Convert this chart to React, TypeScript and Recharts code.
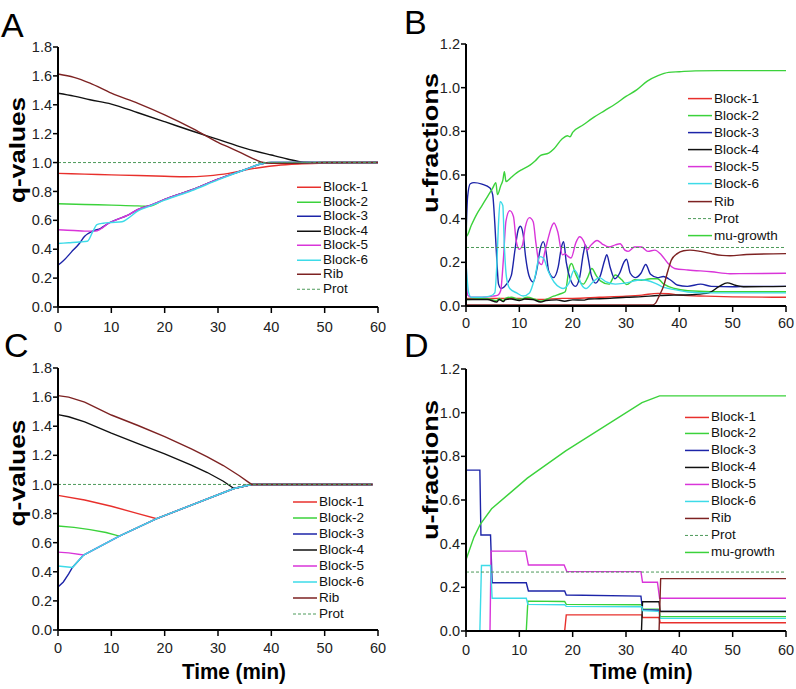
import { LineChart, Line, XAxis, YAxis, Legend } from 'recharts';

type Pt = [number, number];

const TIME_TICKS = [0, 10, 20, 30, 40, 50, 60];
const Q_TICKS = [0, 0.2, 0.4, 0.6, 0.8, 1.0, 1.2, 1.4, 1.6, 1.8];
const U_TICKS = [0, 0.2, 0.4, 0.6, 0.8, 1.0, 1.2];

const Q_NAMES = ['Block-1', 'Block-2', 'Block-3', 'Block-4', 'Block-5', 'Block-6', 'Rib', 'Prot'];
const U_NAMES = [...Q_NAMES, 'mu-growth'];

const COLORS: Record<string, string> = {
  'Block-1': '#e8302c',
  'Block-2': '#3bd23b',
  'Block-3': '#1c24a8',
  'Block-4': '#111111',
  'Block-5': '#d935d9',
  'Block-6': '#3ddbe8',
  Rib: '#7d2222',
  Prot: '#4d9a5a',
  'mu-growth': '#3bd23b',
};

// ---- panel A: q-values, simulation
const A_BLOCK1: Pt[] = [[0, 0.925], [5, 0.92], [10, 0.915], [15, 0.91], [20, 0.905], [24, 0.902], [28, 0.908], [32, 0.925], [35, 0.948], [38, 0.966], [41, 0.98], [45, 0.99], [50, 0.995], [55, 0.998], [60, 1.0]];
const A_BLOCK2: Pt[] = [[0, 0.715], [5, 0.71], [10, 0.705], [15, 0.7], [17, 0.697], [20, 0.745], [25, 0.81], [30, 0.885], [35, 0.95], [38, 0.99], [40, 1.0], [45, 1.0], [60, 1.0]];
const A_BLOCK3: Pt[] = [[0, 0.29], [1, 0.32], [2.5, 0.38], [4, 0.44], [5, 0.49], [6.5, 0.525], [8, 0.545], [9.5, 0.58], [11, 0.605], [13, 0.635], [15, 0.675], [17, 0.7], [20, 0.745], [25, 0.81], [30, 0.885], [35, 0.95], [38, 0.99], [40, 1.0], [60, 1.0]];
const A_BLOCK4: Pt[] = [[0, 1.48], [3, 1.46], [6, 1.435], [10, 1.405], [15, 1.345], [20, 1.283], [25, 1.22], [30, 1.16], [35, 1.1], [40, 1.052], [43, 1.025], [46, 1.003], [50, 1.0], [60, 1.0]];
const A_BLOCK5: Pt[] = [[0, 0.535], [3, 0.53], [5, 0.525], [7, 0.525], [8, 0.54], [9.5, 0.58], [11, 0.605], [13, 0.635], [15, 0.675], [17, 0.7], [20, 0.745], [25, 0.81], [30, 0.885], [35, 0.95], [38, 0.99], [40, 1.0], [60, 1.0]];
const A_BLOCK6: Pt[] = [[0, 0.44], [2, 0.445], [4, 0.45], [5.5, 0.455], [6.5, 0.52], [7.3, 0.57], [8.5, 0.58], [10, 0.585], [12, 0.59], [13, 0.61], [15, 0.665], [17, 0.695], [20, 0.74], [25, 0.805], [30, 0.88], [35, 0.95], [38, 0.99], [40, 1.0], [60, 1.0]];
const A_RIB: Pt[] = [[0, 1.613], [3, 1.59], [6, 1.55], [10, 1.48], [15, 1.41], [20, 1.33], [25, 1.24], [28, 1.18], [30, 1.14], [33, 1.09], [35, 1.055], [37, 1.02], [38.5, 1.0], [40, 0.995], [45, 0.995], [50, 1.0], [60, 1.0]];
const A_PROT: Pt[] = [[0, 1.0], [60, 1.0]];

// ---- panel B: u-fractions, simulation
const B_BLOCK1: Pt[] = [[0, 0.035], [5, 0.035], [10, 0.035], [14, 0.03], [18, 0.035], [20, 0.035], [25, 0.04], [30, 0.045], [33, 0.05], [36, 0.058], [38, 0.056], [40, 0.05], [45, 0.045], [50, 0.042], [60, 0.04]];
const B_BLOCK2: Pt[] = [[0, 0.03], [2, 0.032], [4, 0.033], [5.8, 0.025], [6.2, 0.035], [7, 0.025], [7.4, 0.035], [8.5, 0.04], [10, 0.03], [11.5, 0.04], [13, 0.03], [14, 0.022], [15, 0.03], [16.4, 0.045], [17.6, 0.055], [18.6, 0.065], [19.4, 0.18], [19.8, 0.195], [20.5, 0.15], [21.2, 0.115], [22, 0.1], [22.8, 0.13], [23.6, 0.172], [24.4, 0.14], [25.2, 0.115], [26.8, 0.1], [28, 0.142], [29.2, 0.12], [30.1, 0.098], [31.6, 0.12], [32.9, 0.118], [34.6, 0.125], [35.9, 0.125], [37.1, 0.1], [39.1, 0.08], [41.6, 0.07], [46, 0.066], [60, 0.065]];
const B_BLOCK3: Pt[] = [[0, 0.32], [0.3, 0.5], [0.8, 0.56], [1.5, 0.565], [3, 0.558], [4.5, 0.54], [5.0, 0.51], [5.4, 0.38], [5.8, 0.2], [6.1, 0.1], [6.6, 0.08], [7.6, 0.1], [8.5, 0.14], [9.2, 0.26], [9.8, 0.35], [10.2, 0.365], [10.7, 0.33], [11.2, 0.22], [11.8, 0.14], [12.6, 0.11], [13.3, 0.17], [13.9, 0.26], [14.5, 0.295], [15, 0.25], [15.5, 0.16], [16.4, 0.13], [17.3, 0.18], [17.9, 0.27], [18.3, 0.295], [18.8, 0.2], [19.6, 0.12], [20.5, 0.09], [21.3, 0.13], [22, 0.24], [22.4, 0.28], [22.9, 0.22], [23.5, 0.14], [24.3, 0.105], [25.2, 0.14], [26, 0.21], [26.4, 0.235], [27, 0.18], [27.9, 0.125], [28.8, 0.15], [29.6, 0.2], [30.1, 0.214], [30.8, 0.15], [31.8, 0.13], [32.8, 0.15], [33.7, 0.19], [34.6, 0.145], [35.9, 0.13], [37, 0.135], [38.4, 0.118], [39.6, 0.096], [41.5, 0.09], [44, 0.1], [46, 0.09], [50, 0.088], [53, 0.09], [60, 0.09]];
const B_BLOCK4: Pt[] = [[0, 0.03], [2, 0.03], [4, 0.03], [5.8, 0.018], [6.2, 0.03], [7, 0.02], [7.4, 0.03], [8.5, 0.032], [10, 0.025], [11, 0.032], [12.5, 0.03], [14, 0.018], [15, 0.025], [17, 0.028], [18.5, 0.022], [20, 0.028], [22, 0.027], [23, 0.032], [25, 0.033], [27, 0.035], [30, 0.04], [33, 0.043], [36, 0.048], [39, 0.05], [43, 0.053], [45.5, 0.06], [47.5, 0.09], [49, 0.106], [50.5, 0.095], [52, 0.088], [60, 0.09]];
const B_BLOCK5: Pt[] = [[0, 0.22], [0.3, 0.05], [1, 0.04], [3, 0.04], [5, 0.045], [6, 0.05], [6.5, 0.07], [7.0, 0.21], [7.5, 0.39], [8.2, 0.437], [8.9, 0.41], [9.4, 0.3], [10, 0.26], [10.6, 0.28], [11.1, 0.36], [11.9, 0.405], [12.6, 0.386], [13.1, 0.29], [13.7, 0.2], [14.2, 0.19], [14.8, 0.25], [15.3, 0.3], [16, 0.36], [16.5, 0.38], [17.2, 0.34], [18.1, 0.234], [18.6, 0.24], [19, 0.23], [19.7, 0.22], [20.6, 0.29], [21.3, 0.317], [22.1, 0.295], [22.7, 0.256], [23.3, 0.275], [24.6, 0.3], [25.5, 0.285], [26.8, 0.27], [28, 0.28], [28.9, 0.285], [29.8, 0.256], [30.4, 0.25], [31.6, 0.27], [32.9, 0.27], [34.1, 0.25], [35.4, 0.256], [36.6, 0.235], [37.9, 0.195], [39.1, 0.172], [41.6, 0.165], [46, 0.157], [49.5, 0.148], [60, 0.15]];
const B_BLOCK6: Pt[] = [[0, 0.2], [0.5, 0.06], [1, 0.04], [3, 0.04], [4.5, 0.045], [5.4, 0.06], [5.8, 0.2], [6.06, 0.36], [6.4, 0.478], [6.9, 0.46], [7.2, 0.27], [7.6, 0.13], [8.2, 0.08], [9.5, 0.06], [10.7, 0.046], [11.9, 0.06], [12.9, 0.13], [13.8, 0.226], [14.5, 0.22], [15.4, 0.16], [16.5, 0.11], [17.6, 0.085], [18.2, 0.08], [19.2, 0.1], [20.3, 0.165], [21, 0.14], [21.6, 0.1], [22.5, 0.08], [23.8, 0.11], [25, 0.13], [26.3, 0.11], [28, 0.1], [29.8, 0.105], [32.9, 0.12], [35.4, 0.105], [37.1, 0.085], [39.1, 0.075], [41.6, 0.064], [46, 0.06], [60, 0.06]];
const B_RIB: Pt[] = [[0, 0.005], [35, 0.005], [35.5, 0.012], [36.3, 0.05], [37, 0.088], [37.9, 0.165], [38.5, 0.21], [39.6, 0.24], [40.8, 0.253], [42, 0.256], [44, 0.25], [46, 0.24], [48, 0.232], [49.5, 0.23], [52.6, 0.236], [60, 0.24]];
const B_PROT: Pt[] = [[0, 0.268], [60, 0.268]];
const B_MU: Pt[] = [[0, 0.94], [0.1, 0.32], [1, 0.37], [2, 0.42], [3, 0.46], [4, 0.5], [5, 0.54], [5.6, 0.565], [5.9, 0.51], [6.5, 0.55], [6.9, 0.575], [7.2, 0.615], [7.5, 0.57], [8.5, 0.59], [9.5, 0.61], [10.5, 0.625], [12, 0.645], [13, 0.665], [14, 0.69], [15.5, 0.7], [16.5, 0.72], [18, 0.765], [19, 0.78], [19.5, 0.775], [20, 0.795], [22, 0.83], [24, 0.865], [26, 0.895], [28, 0.925], [30, 0.96], [32, 0.99], [34, 1.03], [36, 1.055], [38, 1.07], [40, 1.073], [43, 1.077], [50, 1.078], [60, 1.078]];

// ---- panel C: q-values, model
const C_BLOCK1: Pt[] = [[0, 0.925], [5, 0.893], [10, 0.85], [15, 0.8], [18.5, 0.765], [33, 0.972], [36.3, 1.0], [59, 1.0]];
const C_BLOCK2: Pt[] = [[0, 0.715], [3, 0.705], [6, 0.69], [9, 0.67], [11.5, 0.645], [18.5, 0.765], [33, 0.972], [36.3, 1.0], [59, 1.0]];
const C_BLOCK3: Pt[] = [[0, 0.295], [1, 0.33], [2, 0.385], [2.7, 0.43], [4.8, 0.515], [11.5, 0.645], [18.5, 0.765], [33, 0.972], [36.3, 1.0], [59, 1.0]];
const C_BLOCK4: Pt[] = [[0, 1.48], [2, 1.465], [5, 1.43], [10, 1.352], [15, 1.28], [20, 1.21], [25, 1.133], [28, 1.082], [31, 1.022], [33, 0.972], [36.3, 1.0], [59, 1.0]];
const C_BLOCK5: Pt[] = [[0, 0.535], [2, 0.53], [4.8, 0.515], [11.5, 0.645], [18.5, 0.765], [33, 0.972], [36.3, 1.0], [59, 1.0]];
const C_BLOCK6: Pt[] = [[0, 0.44], [2.7, 0.43], [4.8, 0.515], [11.5, 0.645], [18.5, 0.765], [33, 0.972], [36.3, 1.0], [59, 1.0]];
const C_RIB: Pt[] = [[0, 1.61], [2, 1.6], [5, 1.565], [10, 1.477], [15, 1.405], [20, 1.328], [25, 1.245], [28, 1.19], [31, 1.13], [34, 1.06], [36.3, 1.0], [59, 1.0]];
const C_PROT: Pt[] = [[0, 1.0], [59, 1.0]];

// ---- panel D: u-fractions, model
const D_BLOCK1: Pt[] = [[0, 0], [18.5, 0], [18.8, 0.074], [33, 0.074], [33.1, 0.062], [36.2, 0.062], [36.4, 0.038], [60, 0.038]];
const D_BLOCK2: Pt[] = [[0, 0], [11.3, 0], [11.6, 0.137], [18.5, 0.135], [18.8, 0.122], [33, 0.12], [33.1, 0.1], [36.2, 0.1], [36.4, 0.066], [60, 0.066]];
const D_BLOCK3: Pt[] = [[0, 0.737], [2.6, 0.737], [2.8, 0.44], [4.6, 0.44], [4.9, 0.221], [11.3, 0.221], [11.7, 0.183], [18.5, 0.183], [18.8, 0.165], [32.8, 0.16], [33.1, 0.098], [36.2, 0.095], [36.4, 0.09], [60, 0.09]];
const D_BLOCK4: Pt[] = [[0, 0], [32.9, 0], [33.1, 0.134], [36.2, 0.134], [36.4, 0.089], [60, 0.089]];
const D_BLOCK5: Pt[] = [[0, 0], [4.5, 0], [4.7, 0.366], [11.2, 0.366], [11.7, 0.302], [18.4, 0.302], [18.9, 0.272], [32.8, 0.272], [33.1, 0.223], [35.9, 0.223], [36.3, 0.15], [60, 0.15]];
const D_BLOCK6: Pt[] = [[0, 0], [2.6, 0], [2.9, 0.3], [4.6, 0.3], [4.9, 0.15], [11.3, 0.15], [11.6, 0.122], [18.5, 0.12], [18.8, 0.113], [33, 0.111], [33.1, 0.093], [36.2, 0.09], [36.4, 0.058], [60, 0.058]];
const D_RIB: Pt[] = [[0, 0], [36.2, 0], [36.5, 0.24], [60, 0.24]];
const D_PROT: Pt[] = [[0, 0.27], [60, 0.27]];
const D_MU: Pt[] = [[0, 0.935], [0.05, 0.33], [1.5, 0.43], [2.7, 0.49], [4.8, 0.56], [11.5, 0.7], [18.7, 0.825], [33, 1.046], [36.3, 1.077], [60, 1.077]];

type Series = { name: string; points: { x: number; y: number }[] };

const makeSeries = (names: string[], arrays: Pt[][]): Series[] =>
  names.map((name, i) => ({ name, points: arrays[i].map(([x, y]) => ({ x, y })) }));

const SERIES_A = makeSeries(Q_NAMES, [A_BLOCK1, A_BLOCK2, A_BLOCK3, A_BLOCK4, A_BLOCK5, A_BLOCK6, A_RIB, A_PROT]);
const SERIES_B = makeSeries(U_NAMES, [B_BLOCK1, B_BLOCK2, B_BLOCK3, B_BLOCK4, B_BLOCK5, B_BLOCK6, B_RIB, B_PROT, B_MU]);
const SERIES_C = makeSeries(Q_NAMES, [C_BLOCK1, C_BLOCK2, C_BLOCK3, C_BLOCK4, C_BLOCK5, C_BLOCK6, C_RIB, C_PROT]);
const SERIES_D = makeSeries(U_NAMES, [D_BLOCK1, D_BLOCK2, D_BLOCK3, D_BLOCK4, D_BLOCK5, D_BLOCK6, D_RIB, D_PROT, D_MU]);

const FONT = '"Liberation Sans", Arial, Helvetica, sans-serif';

function LegendRows({ payload, rowH }: any) {
  // keep the plotting order (Block-1 ... Rib, Prot, mu-growth)
  const rows = [...(payload || [])].sort((a: any, b: any) => U_NAMES.indexOf(a.value) - U_NAMES.indexOf(b.value));
  return (
    <div style={{ fontSize: 13.5, color: '#111', fontFamily: FONT }}>
      {rows.map((e: any) => (
        <div key={e.value} style={{ display: 'flex', alignItems: 'center', height: rowH, lineHeight: `${rowH}px` }}>
          <svg width={24} height={rowH} style={{ display: 'block' }}>
            <line
              x1={0}
              x2={24}
              y1={rowH / 2}
              y2={rowH / 2}
              stroke={e.color}
              strokeWidth={e.value === 'Prot' ? 1 : 1.5}
              strokeDasharray={e.value === 'Prot' ? '3 2' : undefined}
            />
          </svg>
          <span style={{ marginLeft: 2, whiteSpace: 'nowrap' }}>{e.value}</span>
        </div>
      ))}
    </div>
  );
}

interface PanelProps {
  left: number;
  top: number;
  width: number;
  height: number;
  margin: { top: number; right: number; left: number; bottom: number };
  yWidth: number;
  xHeight: number;
  xGap: number;
  yMax: number;
  yTicks: number[];
  series: Series[];
  curve: 'monotone' | 'linear';
  legendLeft: number;
  legendTop: number;
  rowH: number;
}

function Panel(p: PanelProps) {
  const axisLine = { stroke: '#000', strokeWidth: 2 };
  const tickLine = { stroke: '#000', strokeWidth: 1.5 };
  const tick = { fill: '#222', fontSize: 14.5 };
  return (
    <div style={{ position: 'absolute', left: p.left, top: p.top }}>
      <LineChart width={p.width} height={p.height} margin={p.margin}>
        <XAxis
          type="number"
          dataKey="x"
          domain={[0, 60]}
          ticks={TIME_TICKS}
          interval={0}
          height={p.xHeight}
          axisLine={axisLine}
          tickLine={tickLine}
          tickSize={6}
          tickMargin={p.xGap - 6}
          tick={tick}
        />
        <YAxis
          type="number"
          domain={[0, p.yMax]}
          ticks={p.yTicks}
          interval={0}
          width={p.yWidth}
          axisLine={axisLine}
          tickLine={tickLine}
          tickSize={5}
          tickMargin={1}
          tick={tick}
          tickFormatter={(v: number) => v.toFixed(1)}
        />
        {p.series.map((s) => (
          <Line
            key={s.name}
            data={s.points}
            dataKey="y"
            name={s.name}
            type={p.curve}
            stroke={COLORS[s.name]}
            strokeWidth={s.name === 'Prot' ? 1 : 1.4}
            strokeDasharray={s.name === 'Prot' ? '3 2' : undefined}
            dot={false}
            activeDot={false}
            isAnimationActive={false}
          />
        ))}
        <Legend
          layout="vertical"
          align="center"
          verticalAlign="middle"
          wrapperStyle={{ left: p.legendLeft, top: p.legendTop, width: 110, height: 'auto' }}
          content={(props: any) => <LegendRows payload={props.payload} rowH={p.rowH} />}
        />
      </LineChart>
    </div>
  );
}

function YTitle({ text, cy, baseX, len }: { text: string; cy: number; baseX: number; len: number }) {
  return (
    <text
      transform={`translate(${baseX},${cy}) rotate(-90)`}
      textAnchor="middle"
      fontWeight="bold"
      fontSize={22}
      textLength={len}
      lengthAdjust="spacingAndGlyphs"
      fill="#000"
    >
      {text}
    </text>
  );
}

export default function App() {
  return (
    <div style={{ position: 'absolute', left: 0, top: 0, width: 796, height: 689, background: '#fff', fontFamily: FONT }}>
      <Panel
        left={0} top={0} width={400} height={345}
        margin={{ top: 47, right: 22, left: 0, bottom: 0 }}
        yWidth={58} xHeight={38} xGap={15}
        yMax={1.8} yTicks={Q_TICKS} series={SERIES_A} curve="monotone"
        legendLeft={297} legendTop={180} rowH={14.5}
      />
      <Panel
        left={400} top={0} width={396} height={345}
        margin={{ top: 44, right: 10, left: 0, bottom: 0 }}
        yWidth={66} xHeight={39} xGap={12}
        yMax={1.2} yTicks={U_TICKS} series={SERIES_B} curve="monotone"
        legendLeft={288} legendTop={89.5} rowH={17.2}
      />
      <Panel
        left={0} top={340} width={400} height={349}
        margin={{ top: 28, right: 22, left: 0, bottom: 0 }}
        yWidth={58} xHeight={59} xGap={13}
        yMax={1.8} yTicks={Q_TICKS} series={SERIES_C} curve="linear"
        legendLeft={293} legendTop={154} rowH={16}
      />
      <Panel
        left={400} top={340} width={396} height={349}
        margin={{ top: 29, right: 10, left: 0, bottom: 0 }}
        yWidth={66} xHeight={58} xGap={14}
        yMax={1.2} yTicks={U_TICKS} series={SERIES_D} curve="linear"
        legendLeft={285} legendTop={68.5} rowH={16.9}
      />
      <svg width={796} height={689} style={{ position: 'absolute', left: 0, top: 0, pointerEvents: 'none' }} fontFamily={FONT}>
        <text x={1} y={37} fontSize={34}>A</text>
        <text x={404} y={34} fontSize={34}>B</text>
        <text x={4} y={357} fontSize={34}>C</text>
        <text x={404} y={357} fontSize={34}>D</text>
        <YTitle text="q-values" cy={150} baseX={25} len={106} />
        <YTitle text="u-fractions" cy={143} baseX={438} len={140} />
        <YTitle text="q-values" cy={473} baseX={25} len={107} />
        <YTitle text="u-fractions" cy={470} baseX={438} len={140} />
        <text x={234} y={679} textAnchor="middle" fontWeight="bold" fontSize={22} textLength={104} lengthAdjust="spacingAndGlyphs">Time (min)</text>
        <text x={641} y={679} textAnchor="middle" fontWeight="bold" fontSize={22} textLength={103} lengthAdjust="spacingAndGlyphs">Time (min)</text>
      </svg>
    </div>
  );
}
